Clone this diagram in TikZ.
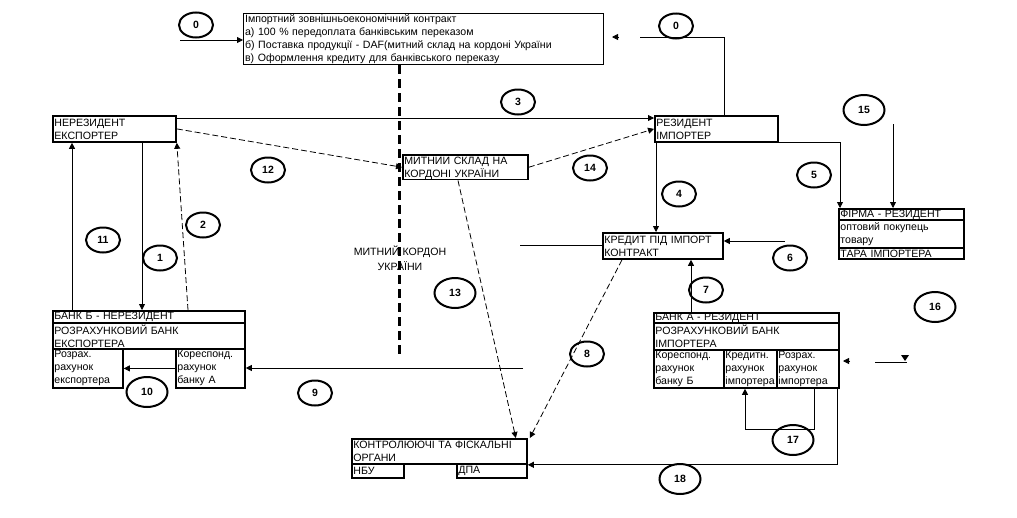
\documentclass[tikz,border=0pt]{standalone}
\usepackage{fontspec}
\setmainfont{Liberation Sans}
\usetikzlibrary{arrows.meta,shapes.geometric,calc}

\tikzset{
  cell/.style={draw, line width=1.8pt, fill=white, anchor=north west,
    inner xsep=1.5pt, inner ysep=0pt, align=left,
    font=\fontsize{10.6}{13}\selectfont},
  num/.style={ellipse, draw, line width=2pt, minimum width=34pt,
    minimum height=25pt, inner sep=0pt, font=\fontsize{10.5}{11}\selectfont\bfseries},
  bignum/.style={num, minimum width=41pt, minimum height=30pt},
  arr/.style={-{Triangle[length=6pt,width=6pt]}, line width=0.8pt},
  darr/.style={arr, dash pattern=on 6pt off 3pt},
}

\begin{document}
\begin{tikzpicture}[x=1pt, y=-1pt]
  \fill[white] (0,0) rectangle (1017,517);
  \useasboundingbox (0,0) rectangle (1017,517);

  % customs border
  \draw[line width=3pt, dash pattern=on 9pt off 5pt] (399,65) -- (399,355);
  \node[font=\fontsize{10.6}{15}\selectfont, align=center] (kordon) at (400,258) {МИТНИЙ КОРДОН\\УКРАЇНИ};

  % boxes
  \node[cell, line width=1.2pt, text width=357pt, minimum height=51pt] (contract) at (243,13)
    {Імпортний зовнішньоекономічний контракт\\а) 100 \% передоплата банківським переказом\\б) Поставка продукції - DAF(митний склад на кордоні України\\в) Оформлення кредиту для банківського переказу};
  \node[cell, text width=120pt, minimum height=26pt] (exp) at (52,115) {НЕРЕЗИДЕНТ\\ЕКСПОРТЕР};
  \node[cell, text width=122pt, minimum height=23pt] (sklad) at (402,154) {МИТНИЙ СКЛАД НА\\КОРДОНІ УКРАЇНИ};
  \node[cell, text width=120pt, minimum height=26pt] (imp) at (654,115) {РЕЗИДЕНТ\\ІМПОРТЕР};
  \node[cell, text width=117pt, minimum height=26pt] (kredyt) at (602,232) {КРЕДИТ ПІД ІМПОРТ\\КОНТРАКТ};

  \node[cell, text width=122pt, minimum height=11pt] (firmt) at (838,208) {ФІРМА - РЕЗИДЕНТ};
  \node[cell, text width=122pt, minimum height=28pt] (firmm) at (838,219) {оптовий покупець\\товару};
  \node[cell, text width=122pt, minimum height=11pt] (firmb) at (838,247) {ТАРА ІМПОРТЕРА};

  \node[cell, text width=189pt, minimum height=12pt] (bankBt) at (52,310) {БАНК Б - НЕРЕЗИДЕНТ};
  \node[cell, text width=189pt, minimum height=26pt] (bankBm) at (52,322) {РОЗРАХУНКОВИЙ БАНК\\ЕКСПОРТЕРА};
  \node[cell, text width=67pt, minimum height=39pt] (bankBr) at (52,348) {Розрах.\\рахунок\\експортера};
  \node[cell, text width=66pt, minimum height=39pt] (bankBk) at (175,348) {Кореспонд.\\рахунок\\банку А};

  \node[cell, text width=182pt, minimum height=10pt] (bankAt) at (653,312) {БАНК А - РЕЗИДЕНТ};
  \node[cell, text width=182pt, minimum height=27pt] (bankAm) at (653,322) {РОЗРАХУНКОВИЙ БАНК\\ІМПОРТЕРА};
  \node[cell, text width=67pt, minimum height=38pt] (bankAk) at (653,349) {Кореспонд.\\рахунок\\банку Б};
  \node[cell, text width=50pt, minimum height=38pt] (bankAc) at (723,349) {Кредитн.\\рахунок\\імпортера};
  \node[cell, text width=59pt, minimum height=38pt] (bankAr) at (776,349) {Розрах.\\рахунок\\імпортера};

  \node[cell, text width=172pt, minimum height=25pt] (ctrlt) at (351,438) {КОНТРОЛЮЮЧІ ТА ФІСКАЛЬНІ\\ОРГАНИ};
  \node[cell, text width=49pt, minimum height=14pt] (ctrln) at (351,463) {НБУ};
  \node[cell, text width=67pt, minimum height=14pt] (ctrld) at (456,463) {ДПА};

  % numbers
  \node[num] (n0a) at (196,25) {0};
  \node[num] (n0b) at (676,26) {0};
  \node[num] (n3) at (518,102) {3};
  \node[num] (n12) at (268,170) {12};
  \node[num] (n14) at (590,168) {14};
  \node[bignum] (n15) at (864,110) {15};
  \node[num] (n5) at (814,175) {5};
  \node[num] (n4) at (679,194) {4};
  \node[num] (n11) at (103,240) {11};
  \node[num] (n2) at (203,225) {2};
  \node[num] (n1) at (160,258) {1};
  \node[num] (n6) at (790,258) {6};
  \node[bignum] (n13) at (455,293) {13};
  \node[bignum] (n16) at (935,307) {16};
  \node[num] (n7) at (706,290) {7};
  \node[num] (n8) at (587,354) {8};
  \node[bignum] (n10) at (147,392) {10};
  \node[num] (n9) at (315,393) {9};
  \node[bignum] (n17) at (793,440) {17};
  \node[bignum] (n18) at (680,479) {18};

  % connectors
  \coordinate (in0) at (180,40);
  \draw[arr] (in0) -- (in0 -| contract.west);
  \coordinate (out0) at (640,37);
  \draw[line width=0.8pt] ($(imp.north west)+(70,0)$) |- (out0);
  \coordinate (tip0) at (612,37);
  \draw[arr] ($(tip0)+(7,0)$) -- (tip0);

  \draw[arr] ($(exp.north east)+(0,3)$) -- ($(imp.north west)+(0,3)$);
  \draw[darr] (exp.east) -- (sklad.west);
  \draw[darr] (sklad.east) -- (imp.west);
  \draw[arr] (imp.south east) -| ($(firmt.north west)+(2,0)$);
  \coordinate (c15s) at (893,124);
  \draw[arr] (c15s) -- (c15s |- firmt.north);
  \draw[arr] ($(imp.south west)+(2,0)$) -- ($(kredyt.north west)+(54,0)$);
  \coordinate (in6) at (785,241);
  \draw[arr] (in6) -- (in6 -| kredyt.east);
  \coordinate (lft) at (520,245);
  \draw[line width=0.8pt] (lft) -- (lft -| kredyt.west);
  \draw[arr] ($(bankAt.north west)+(38,0)$) -- ($(kredyt.south west)+(89,0)$);
  \draw[darr] ($(kredyt.south west)+(20,0)$) -- ($(ctrlt.north east)+(2,0)$);
  \draw[darr] ($(sklad.south west)+(56,0)$) -- ($(ctrlt.north east)+(-12,0)$);

  \draw[arr] ($(exp.south west)+(90,0)$) -- ($(bankBt.north west)+(90,0)$);
  \draw[arr] ($(bankBt.north west)+(20,0)$) -- ($(exp.south west)+(20,0)$);
  \draw[darr] ($(bankBt.north west)+(136,0)$) -- (exp.south east);
  \coordinate (in9) at (523,368);
  \draw[arr] (in9) -- (in9 -| bankBk.east);
  \draw[arr] (bankBk.west) -- (bankBr.east);

  \draw[arr] ($(bankAr.south west)+(38,0)$) -- ++(0,41) -| ($(bankAc.south west)+(22,0)$);
  \draw[arr] ($(bankAr.south east)+(-2,0)$) |- (ctrlt.south east);

  \coordinate (tip16) at (843,361);
  \draw[arr] ($(tip16)+(7,0)$) -- (tip16);
  \coordinate (frag) at (875,362);
  \draw[line width=0.8pt] (frag) -- ++(32,0);
  \fill ($(frag)+(26,-7)$) -- ++(8,0) -- ++(-4,6) -- cycle;
\end{tikzpicture}
\end{document}
